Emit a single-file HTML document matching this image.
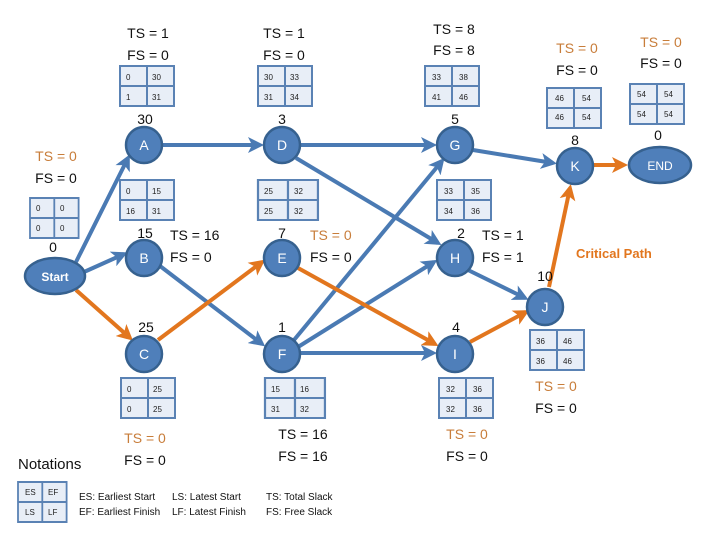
<!DOCTYPE html>
<html><head><meta charset="utf-8"><style>
html,body{margin:0;padding:0;background:#fff}
svg{display:block;font-family:"Liberation Sans",sans-serif}
.t rect{fill:#e8eef7;stroke:#5a82b4;stroke-width:2}
.t line{stroke:#5a82b4;stroke-width:2}
.t text{font-size:8px;fill:#222}
.lb{font-size:14px;fill:#111}
.or{fill:#c87d3a}
.nd{fill:#4f7fba;stroke:#36618f;stroke-width:2.5}
.nt{fill:#fff;font-size:14px;text-anchor:middle}
.b{stroke:#4a7ab3;stroke-width:4;fill:none}
.o{stroke:#e2761e;stroke-width:4;fill:none}
</style></head><body>
<svg width="720" height="540" viewBox="0 0 720 540">
<defs>
<marker id="ab" markerWidth="4" markerHeight="4" refX="3" refY="2" orient="auto"><path d="M0,0 L4,2 L0,4 L1,2z" fill="#4a7ab3"/></marker>
<marker id="ao" markerWidth="4" markerHeight="4" refX="3" refY="2" orient="auto"><path d="M0,0 L4,2 L0,4 L1,2z" fill="#e2761e"/></marker>
<g id="tb" class="t"><rect x="0" y="0" width="54" height="40"/><line x1="27" y1="0" x2="27" y2="40"/><line x1="0" y1="20" x2="54" y2="20"/></g>
</defs>
<!-- edges -->
<g class="b" marker-end="url(#ab)">
<line x1="76" y1="262" x2="128" y2="158"/>
<line x1="84" y1="272" x2="124" y2="254"/>
<line x1="162" y1="145" x2="260" y2="145"/>
<line x1="300" y1="145" x2="433" y2="145"/>
<line x1="296" y1="158" x2="438" y2="243"/>
<line x1="160" y1="266" x2="262" y2="344"/>
<line x1="294" y1="340" x2="442" y2="161"/>
<line x1="298" y1="347" x2="434" y2="262"/>
<line x1="300" y1="353" x2="433" y2="353"/>
<line x1="473" y1="150" x2="553" y2="163"/>
<line x1="468" y1="270" x2="525" y2="298"/>
</g>
<g class="o" marker-end="url(#ao)">
<line x1="76" y1="290" x2="130" y2="338"/>
<line x1="158" y1="340" x2="262" y2="262"/>
<line x1="298" y1="268" x2="435" y2="344"/>
<line x1="470" y1="342" x2="526" y2="312"/>
<line x1="549" y1="287" x2="570" y2="188"/>
<line x1="593" y1="165" x2="624" y2="165"/>
</g>
<!-- nodes -->
<g class="nd">
<circle cx="144" cy="145" r="18"/><circle cx="282" cy="145" r="18"/><circle cx="455" cy="145" r="18"/><circle cx="575" cy="166" r="18"/>
<ellipse cx="660" cy="165" rx="31" ry="18"/>
<circle cx="144" cy="258" r="18"/><circle cx="282" cy="258" r="18"/><circle cx="455" cy="258" r="18"/><circle cx="545" cy="307" r="18"/>
<ellipse cx="55" cy="276" rx="30" ry="18"/>
<circle cx="144" cy="354" r="18"/><circle cx="282" cy="354" r="18"/><circle cx="455" cy="354" r="18"/>
</g>
<g class="nt">
<text x="144" y="150">A</text><text x="282" y="150">D</text><text x="455" y="150">G</text><text x="575" y="171">K</text>
<text x="660" y="170" font-size="12">END</text>
<text x="144" y="263">B</text><text x="282" y="263">E</text><text x="455" y="263">H</text><text x="545" y="312">J</text>
<text x="55" y="281" font-size="12" font-weight="bold">Start</text>
<text x="144" y="359">C</text><text x="282" y="359">F</text><text x="455" y="359">I</text>
</g>
<!-- durations -->
<g class="lb" text-anchor="middle" font-size="15">
<text x="145" y="124">30</text><text x="282" y="124">3</text><text x="455" y="124">5</text><text x="575" y="145">8</text><text x="658" y="140">0</text>
<text x="145" y="238">15</text><text x="282" y="238">7</text><text x="461" y="238">2</text><text x="545" y="281">10</text><text x="53" y="252">0</text>
<text x="146" y="332">25</text><text x="282" y="332">1</text><text x="456" y="332">4</text>
</g>
<!-- tables -->
<use href="#tb" x="120" y="66"/><use href="#tb" x="258" y="66"/><use href="#tb" x="425" y="66"/><use href="#tb" x="547" y="88"/><use href="#tb" x="630" y="84"/>
<use href="#tb" x="30" y="198" transform="translate(30,198) scale(0.9,1) translate(-30,-198)"/>
<use href="#tb" x="120" y="180"/><use href="#tb" x="258" y="180" transform="translate(258,180) scale(1.11,1) translate(-258,-180)"/><use href="#tb" x="437" y="180"/>
<use href="#tb" x="121" y="378"/><use href="#tb" x="265" y="378" transform="translate(265,378) scale(1.11,1) translate(-265,-378)"/><use href="#tb" x="439" y="378"/><use href="#tb" x="530" y="330"/>
<use href="#tb" x="18" y="482" transform="translate(18,482) scale(0.9,1) translate(-18,-482)"/>
<g class="t">
<text x="126" y="80">0</text><text x="152" y="80">30</text><text x="126" y="100">1</text><text x="152" y="100">31</text>
<text x="264" y="80">30</text><text x="290" y="80">33</text><text x="264" y="100">31</text><text x="290" y="100">34</text>
<text x="432" y="80">33</text><text x="459" y="80">38</text><text x="432" y="100">41</text><text x="459" y="100">46</text>
<text x="555" y="101">46</text><text x="582" y="101">54</text><text x="555" y="120">46</text><text x="582" y="120">54</text>
<text x="637" y="97">54</text><text x="664" y="97">54</text><text x="637" y="117">54</text><text x="664" y="117">54</text>
<text x="36" y="211">0</text><text x="60" y="211">0</text><text x="36" y="231">0</text><text x="60" y="231">0</text>
<text x="126" y="194">0</text><text x="152" y="194">15</text><text x="126" y="214">16</text><text x="152" y="214">31</text>
<text x="264" y="194">25</text><text x="294" y="194">32</text><text x="264" y="214">25</text><text x="294" y="214">32</text>
<text x="444" y="194">33</text><text x="471" y="194">35</text><text x="444" y="214">34</text><text x="471" y="214">36</text>
<text x="127" y="392">0</text><text x="153" y="392">25</text><text x="127" y="412">0</text><text x="153" y="412">25</text>
<text x="271" y="392">15</text><text x="300" y="392">16</text><text x="271" y="412">31</text><text x="300" y="412">32</text>
<text x="446" y="392">32</text><text x="473" y="392">36</text><text x="446" y="412">32</text><text x="473" y="412">36</text>
<text x="536" y="344">36</text><text x="563" y="344">46</text><text x="536" y="364">36</text><text x="563" y="364">46</text>
<text x="25" y="495">ES</text><text x="48" y="495">EF</text><text x="25" y="515">LS</text><text x="48" y="515">LF</text>
</g>
<!-- slack labels -->
<g class="lb" text-anchor="middle">
<text x="148" y="38">TS = 1</text><text x="148" y="60">FS = 0</text>
<text x="284" y="38">TS = 1</text><text x="284" y="60">FS = 0</text>
<text x="454" y="34">TS = 8</text><text x="454" y="55">FS = 8</text>
<text class="or" x="577" y="53">TS = 0</text><text x="577" y="75">FS = 0</text>
<text class="or" x="661" y="47">TS = 0</text><text x="661" y="68">FS = 0</text>
<text class="or" x="56" y="161">TS = 0</text><text x="56" y="183">FS = 0</text>
<text class="or" x="145" y="443">TS = 0</text><text x="145" y="465">FS = 0</text>
<text x="303" y="439">TS = 16</text><text x="303" y="461">FS = 16</text>
<text class="or" x="467" y="439">TS = 0</text><text x="467" y="461">FS = 0</text>
<text class="or" x="556" y="391">TS = 0</text><text x="556" y="413">FS = 0</text>
</g>
<g class="lb">
<text x="170" y="240">TS = 16</text><text x="170" y="262">FS = 0</text>
<text class="or" x="310" y="240">TS = 0</text><text x="310" y="262">FS = 0</text>
<text x="482" y="240">TS = 1</text><text x="482" y="262">FS = 1</text>
</g>
<text x="576" y="258" font-size="13" font-weight="bold" fill="#e2761e">Critical Path</text>
<text x="18" y="469" font-size="15" fill="#111">Notations</text>
<g font-size="10" fill="#111">
<text x="79" y="500">ES: Earliest Start</text><text x="79" y="515">EF: Earliest Finish</text>
<text x="172" y="500">LS: Latest Start</text><text x="172" y="515">LF: Latest Finish</text>
<text x="266" y="500">TS: Total Slack</text><text x="266" y="515">FS:  Free Slack</text>
</g>
</svg>
</body></html>
